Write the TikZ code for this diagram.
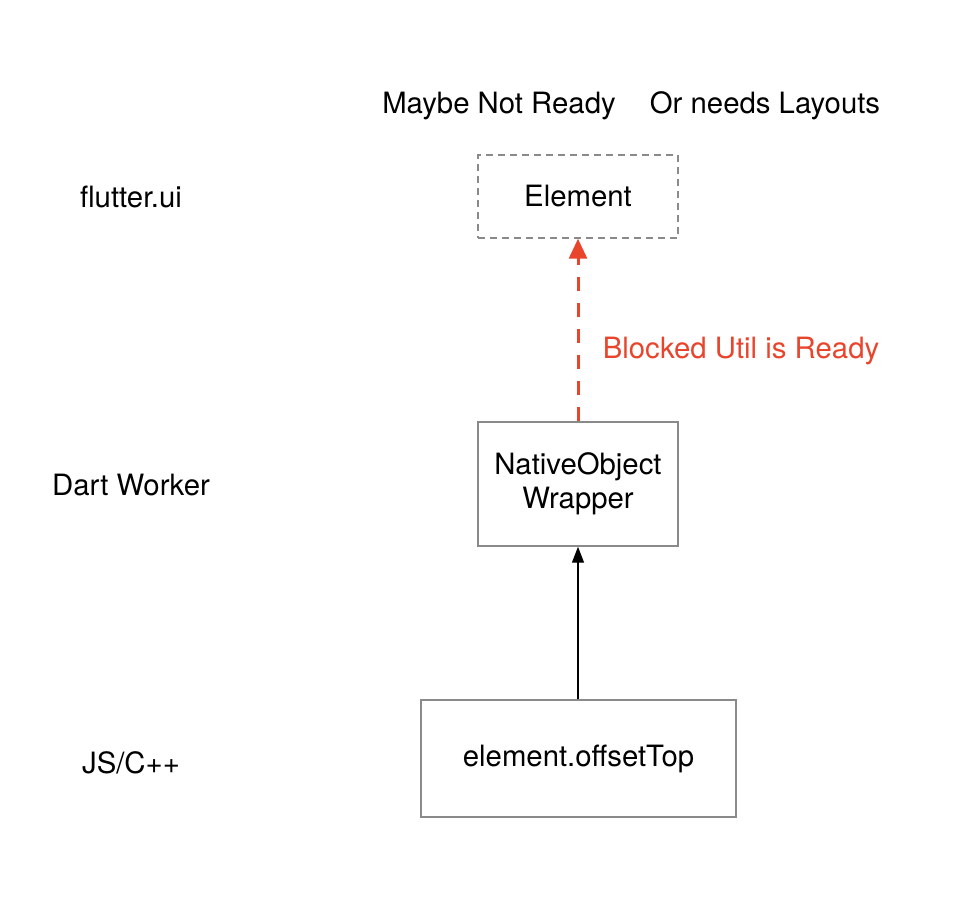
\documentclass[tikz,border=0pt]{standalone}
\usepackage{fontspec}
\setmainfont{TeX Gyre Heros}
\usetikzlibrary{arrows.meta}
\definecolor{boxgray}{HTML}{8A8A8A}
\definecolor{alertred}{HTML}{E9442C}
\begin{document}
\begin{tikzpicture}[x=0.75pt,y=-0.75pt,
  every node/.style={font=\fontsize{22}{26}\selectfont},
  box/.style={draw=boxgray,line width=1.1pt,minimum width=150pt,align=center,inner sep=0pt},
  dashbox/.style={box,dash pattern=on 5pt off 4pt},
  lbl/.style={align=center,inner sep=0pt}]
\useasboundingbox (0,0) rectangle (962,906);
\node[lbl] (t1) at (499,106) {Maybe Not Ready};
\node[lbl] (t2) at (765,106) {Or needs Layouts};
\node[lbl] (l1) at (131,197) {flutter.ui};
\node[lbl] (l2) at (131,485) {Dart Worker};
\node[lbl] (l3) at (131,763) {JS/C++};
\node[dashbox,minimum height=62.25pt] (el) at (578,196.5) {Element};
\node[box,minimum height=93pt,font=\fontsize{22}{25.5}\selectfont] (nw) at (578,484) {NativeObject\\Wrapper};
\node[box,minimum width=236.25pt,minimum height=87.75pt] (ot) at (578.5,758.5) {element.offsetTop};
\draw[alertred,line width=2.25pt,dash pattern=on 11pt off 8.5pt,
  -{Triangle[width=13.5pt,length=15pt]}] (nw.north) -- (el.south);
\node[lbl,text=alertred] (bl) at (741,351) {Blocked Util is Ready};
\draw[black,line width=1.1pt,-{Triangle[width=9pt,length=12pt]}] (ot.north -| nw.south) -- (nw.south);
\end{tikzpicture}
\end{document}
